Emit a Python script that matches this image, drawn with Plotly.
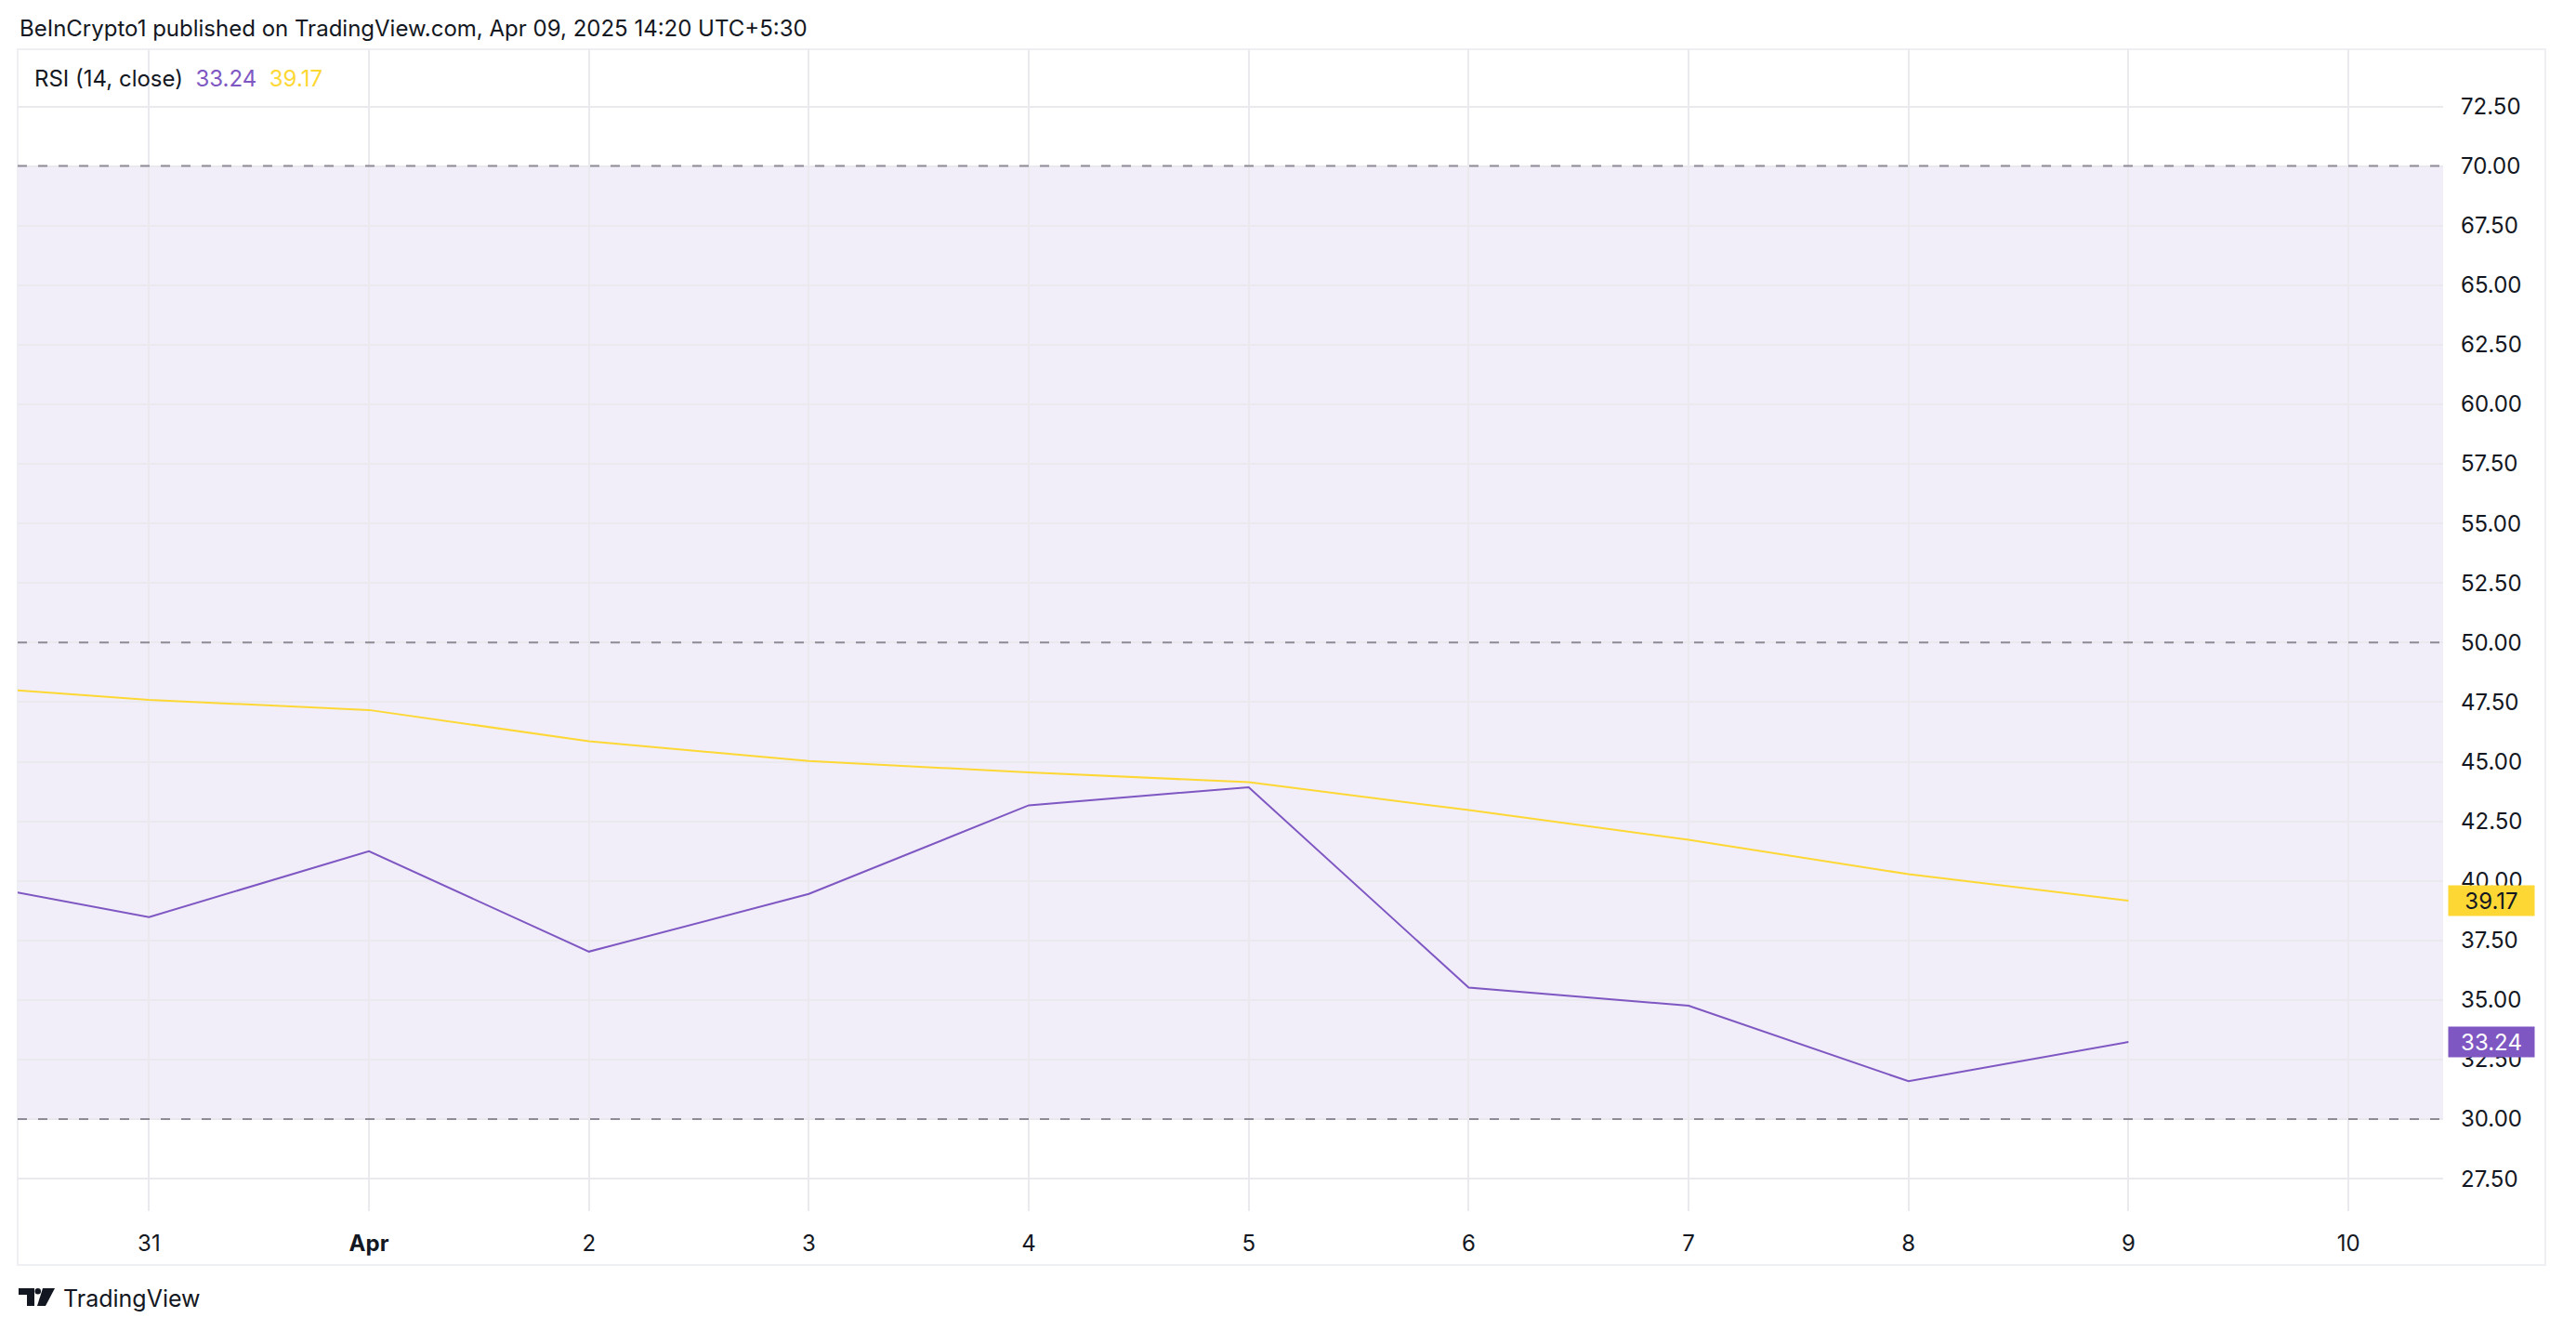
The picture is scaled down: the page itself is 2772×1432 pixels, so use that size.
import plotly.graph_objects as go

# ---- data ----
dates = ["2025-03-30", "2025-03-31", "2025-04-01", "2025-04-02", "2025-04-03", "2025-04-04",
         "2025-04-05", "2025-04-06", "2025-04-07", "2025-04-08", "2025-04-09"]
rsi = [40.2, 38.48, 41.24, 37.03, 39.45, 43.17, 43.93, 35.52, 34.76, 31.59, 33.24]
rsi_ma = [48.27, 47.59, 47.17, 45.86, 45.03, 44.55, 44.14, 42.97, 41.72, 40.28, 39.17]

tick_dates = ["2025-03-31", "2025-04-01", "2025-04-02", "2025-04-03", "2025-04-04", "2025-04-05",
              "2025-04-06", "2025-04-07", "2025-04-08", "2025-04-09", "2025-04-10"]
tick_text = ["31", "<b>Apr</b>", "2", "3", "4", "5", "6", "7", "8", "9", "10"]
y_ticks = [27.5, 30, 32.5, 35, 37.5, 40, 42.5, 45, 47.5, 50, 52.5, 55, 57.5, 60, 62.5, 65, 67.5, 70, 72.5]
levels = [70, 50, 30]

PURPLE = "#7E57C2"
YELLOW = "#FDD835"
TEXT = "#131722"
FONT = "Inter"

W, H = 2772, 1432
OFF = 8  # page body offset
# target screen coordinates of the plot pane
PL, PR, PT, PB = 19, 2629, 53, 1303
ML, MT = PL - OFF, PT - OFF
MR = W - (PR - OFF)
MB = H - (PB - OFF)

pw = W - ML - MR
ph = H - MT - MB
def px(xs):
    return (xs - OFF - ML) / pw
def py(ys):
    return 1 - (ys - OFF - MT) / ph

fig = go.Figure()
fig.add_trace(go.Scatter(x=dates, y=rsi_ma, mode="lines", line=dict(color=YELLOW, width=2),
                         showlegend=False, hoverinfo="skip"))
fig.add_trace(go.Scatter(x=dates, y=rsi, mode="lines", line=dict(color=PURPLE, width=2),
                         showlegend=False, hoverinfo="skip"))

# band
fig.add_shape(type="rect", xref="paper", yref="y", x0=0, x1=1, y0=levels[2], y1=levels[0],
              fillcolor="rgba(126,87,194,0.105)", line=dict(width=0), layer="between")
for lv in levels:
    fig.add_shape(type="line", xref="paper", yref="y", x0=0, x1=1, y0=lv, y1=lv,
                  line=dict(color="#8E8A96", width=2, dash="10px,12px"), layer="above")

# frame
frame_col = "#EDEFF3"
fig.add_shape(type="rect", xref="paper", yref="paper", x0=px(19), x1=px(2739), y0=py(1361), y1=py(53),
              line=dict(color=frame_col, width=2), layer="below")

# value tags
for val, bg, fg in [(rsi_ma[-1], YELLOW, TEXT), (rsi[-1], PURPLE, "#FFFFFF")]:
    fig.add_annotation(xref="paper", yref="y", x=px(2634), y=val, xanchor="left", yanchor="middle",
                       text=f"{val:.2f}", showarrow=False, bgcolor=bg,
                       font=dict(color=fg, size=24, family=FONT),
                       width=90, height=30, align="center", borderpad=1)

# header texts
fig.add_annotation(xref="paper", yref="paper", x=px(19), y=py(31), xanchor="left", yanchor="middle",
                   text="BeInCrypto1 published on TradingView.com, Apr 09, 2025 14:20 UTC+5:30",
                   showarrow=False, font=dict(color=TEXT, size=24, family=FONT))
fig.add_annotation(xref="paper", yref="paper", x=px(35), y=py(85), xanchor="left", yanchor="middle",
                   text=f"RSI (14, close)  <span style='color:{PURPLE}'>{rsi[-1]:.2f}</span>  "
                        f"<span style='color:{YELLOW}'>{rsi_ma[-1]:.2f}</span>",
                   showarrow=False, font=dict(color=TEXT, size=24, family=FONT))

# footer logo (T + dot + slash) and wordmark
LOGO = "#131722"
fig.add_shape(type="path", xref="paper", yref="paper",
              path=(f"M {px(20)},{py(1386)} L {px(37)},{py(1386)} L {px(37)},{py(1405)} "
                    f"L {px(29)},{py(1405)} L {px(29)},{py(1393)} L {px(20)},{py(1393)} Z"),
              fillcolor=LOGO, line=dict(width=0))
fig.add_shape(type="circle", xref="paper", yref="paper",
              x0=px(37.5), x1=px(44), y0=py(1392.5), y1=py(1386),
              fillcolor=LOGO, line=dict(width=0))
fig.add_shape(type="path", xref="paper", yref="paper",
              path=(f"M {px(46)},{py(1386)} L {px(59)},{py(1386)} L {px(49)},{py(1405)} "
                    f"L {px(40)},{py(1405)} Z"),
              fillcolor=LOGO, line=dict(width=0))
fig.add_annotation(xref="paper", yref="paper", x=px(66), y=py(1397), xanchor="left", yanchor="middle",
                   text="TradingView", showarrow=False, font=dict(color=TEXT, size=25, family=FONT))

fig.update_layout(
    width=W, height=H, margin=dict(l=ML, r=MR, t=MT, b=MB),
    paper_bgcolor="white", plot_bgcolor="white",
    font=dict(family=FONT, color=TEXT, size=24),
)
fig.update_xaxes(type="date", range=["2025-03-30 09:40", "2025-04-10 10:20"],
                 tickvals=tick_dates, ticktext=tick_text, showgrid=True, gridcolor="#EAEAEE", gridwidth=2,
                 zeroline=False, showline=False, ticks="", ticklabelstandoff=18,
                 tickfont=dict(size=24, color=TEXT, family=FONT))
fig.update_yaxes(range=[26.14, 74.9], side="right", tickvals=y_ticks,
                 ticktext=[f"{v:.2f}" for v in y_ticks], showgrid=True, gridcolor="#EAEAEE", gridwidth=2,
                 zeroline=False, showline=False, ticks="", ticklabelstandoff=18,
                 tickfont=dict(size=24, color=TEXT, family=FONT))

fig.write_html("out.html")
